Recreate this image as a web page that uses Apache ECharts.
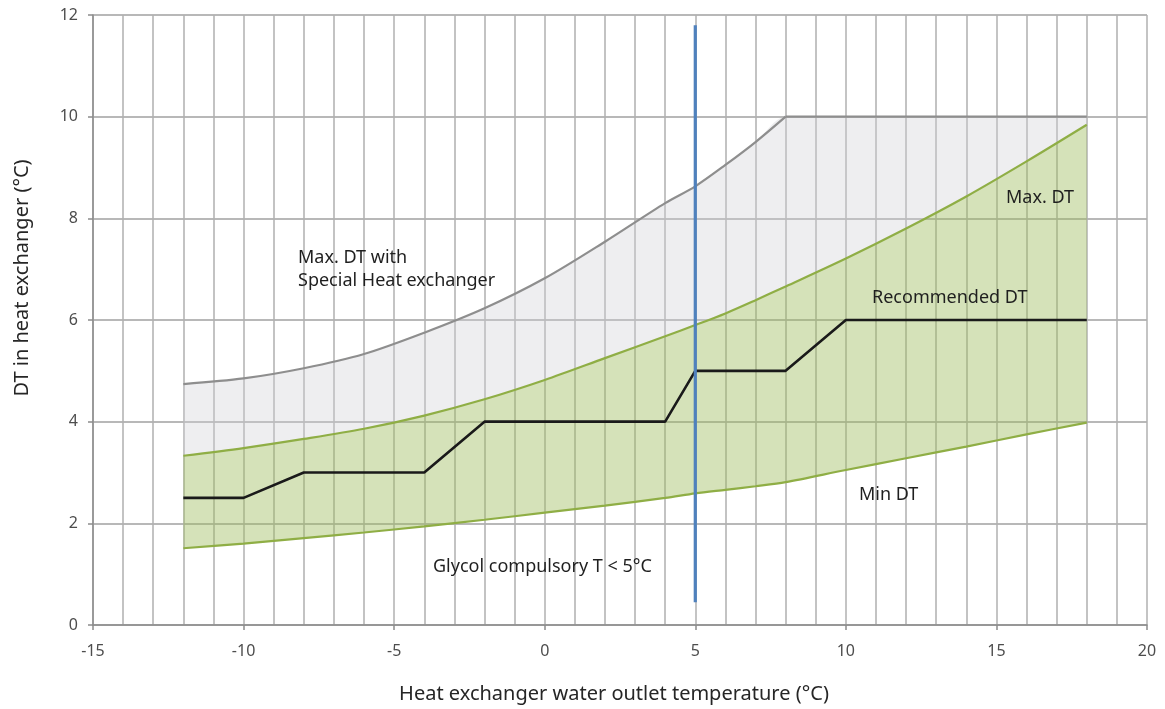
<!DOCTYPE html>
<html>
<head>
<meta charset="utf-8">
<script src="https://cdn.jsdelivr.net/npm/echarts@6/dist/echarts.min.js"></script>
<style>
html,body{margin:0;padding:0;background:#fff;}
#chart{width:1165px;height:709px;}
</style>
</head>
<body>
<div id="chart"></div>
<script>
// Shared x sample points (°C)
var xs      = [-12, -10, -8, -6, -4, -2, 0, 2, 4, 5, 6, 7, 8, 10, 12, 14, 16, 18];
// Min DT curve
var minDT   = [1.51, 1.60, 1.71, 1.82, 1.94, 2.07, 2.21, 2.35, 2.50, 2.59, 2.66, 2.73, 2.81, 3.05, 3.28, 3.51, 3.75, 3.98];
// Max DT curve
var maxDT   = [3.33, 3.48, 3.66, 3.86, 4.12, 4.44, 4.82, 5.25, 5.68, 5.90, 6.13, 6.39, 6.66, 7.21, 7.80, 8.43, 9.12, 9.84];
// Max DT with special heat exchanger
var specDT  = [4.74, 4.85, 5.05, 5.33, 5.75, 6.23, 6.82, 7.54, 8.30, 8.63, 9.05, 9.50, 10.0, 10.0, 10.0, 10.0, 10.0, 10.0];
// Recommended DT (stepped)
var recX    = [-12, -10, -8, -4, -2, 4, 5, 8, 10, 18];
var recY    = [2.5, 2.5, 3, 3, 4, 4, 5, 5, 6, 6];
// Glycol limit line
var glyX    = [5, 5];
var glyY    = [0.45, 11.8];
// Axis ticks
var xTicks  = [-15, -10, -5, 0, 5, 10, 15, 20];
var yTicks  = [0, 2, 4, 6, 8, 10, 12];

function pairs(a, b) { return a.map(function (v, i) { return [v, b[i]]; }); }
// [y, x] rows so that the stacked dimension is y (first numeric column)
function yxRows(yv) { return yv.map(function (v, i) { return [v, xs[i]]; }); }
var band1 = maxDT.map(function (v, i) { return v - minDT[i]; });
var band2 = specDT.map(function (v, i) { return v - maxDT[i]; });

var FONT = 'Noto Sans';
var SM = 0.3;
var chart = echarts.init(document.getElementById('chart'), null, {renderer: 'canvas'});
var gridCol = '#b0b0b0';
var ANN = '18px "Noto Sans"';

var option = {
  backgroundColor: '#ffffff',
  animation: false,
  grid: {left: 93, right: 18, top: 15, bottom: 84, containLabel: false},
  xAxis: {
    type: 'value', min: xTicks[0], max: xTicks[xTicks.length - 1], interval: 5,
    axisLine: {show: true, onZero: false, lineStyle: {color: '#8c8c8c', width: 1.5}},
    axisTick: {show: true, length: 5, lineStyle: {color: '#8c8c8c', width: 1.5}},
    axisLabel: {fontFamily: FONT, fontSize: 16, color: '#4d4d4d', margin: 18},
    splitLine: {show: true, lineStyle: {color: gridCol, width: 1.5}},
    minorTick: {show: false, splitNumber: 5},
    minorSplitLine: {show: true, lineStyle: {color: gridCol, width: 1.5}}
  },
  yAxis: {
    type: 'value', min: yTicks[0], max: yTicks[yTicks.length - 1], interval: 2,
    axisLine: {show: true, onZero: false, lineStyle: {color: '#8c8c8c', width: 1.5}},
    axisTick: {show: true, length: 5, lineStyle: {color: '#8c8c8c', width: 1.5}},
    axisLabel: {fontFamily: FONT, fontSize: 16, color: '#4d4d4d', margin: 15},
    splitLine: {show: true, lineStyle: {color: '#a0a0a0', width: 1.5}}
  },
  series: [
    {
      name: 'Min DT', type: 'line', stack: 'env', data: yxRows(minDT),
      encode: {x: 1, y: 0},
      smooth: SM, symbol: 'none',
      lineStyle: {color: '#8fae45', width: 2.2},
      z: 3
    },
    {
      name: 'Max DT', type: 'line', stack: 'env', data: yxRows(band1),
      encode: {x: 1, y: 0},
      smooth: SM, symbol: 'none',
      lineStyle: {color: '#8fae45', width: 2.2},
      areaStyle: {color: 'rgba(155,187,89,0.42)', opacity: 1},
      z: 3
    },
    {
      name: 'Special fill', type: 'line', stack: 'env', data: yxRows(band2),
      encode: {x: 1, y: 0},
      smooth: SM, symbol: 'none',
      lineStyle: {width: 0, opacity: 0},
      areaStyle: {color: 'rgba(205,205,212,0.35)', opacity: 1},
      z: 2
    },
    {
      name: 'Max DT with Special Heat exchanger', type: 'line',
      data: pairs(xs.slice(0, 13), specDT.slice(0, 13)),
      smooth: SM, symbol: 'none',
      lineStyle: {color: '#8e8e8e', width: 2.2},
      z: 4
    },
    {
      name: 'Max DT with Special Heat exchanger (flat)', type: 'line',
      data: pairs(xs.slice(12), specDT.slice(12)),
      symbol: 'none',
      lineStyle: {color: '#8e8e8e', width: 2.2},
      z: 4
    },
    {
      name: 'Recommended DT', type: 'line', data: pairs(recX, recY),
      symbol: 'none', lineStyle: {color: '#1a1a1a', width: 2.6},
      z: 5
    },
    {
      name: 'Glycol limit', type: 'line', data: pairs(glyX, glyY),
      symbol: 'none', lineStyle: {color: '#4f81bd', width: 3.2},
      z: 6
    }
  ],
  graphic: [
    {type: 'text', left: 298, top: 246, z: 10, style: {text: 'Max. DT with\nSpecial Heat exchanger', font: ANN, fill: '#1f1f1f', lineHeight: 23}},
    {type: 'text', left: 1006, top: 189, z: 10, style: {text: 'Max. DT', font: ANN, fill: '#1f1f1f'}},
    {type: 'text', left: 872, top: 289, z: 10, style: {text: 'Recommended DT', font: ANN, fill: '#1f1f1f'}},
    {type: 'text', left: 859, top: 486, z: 10, style: {text: 'Min DT', font: ANN, fill: '#1f1f1f'}},
    {type: 'text', left: 433, top: 558, z: 10, style: {text: 'Glycol compulsory T < 5°C', font: ANN, fill: '#1f1f1f'}},
    {type: 'text', x: 614, y: 694, z: 10, style: {text: 'Heat exchanger water outlet temperature (°C)', font: '20px "Noto Sans"', fill: '#262626', align: 'center', verticalAlign: 'middle'}},
    {type: 'text', x: 22, y: 278, z: 10, rotation: Math.PI / 2, style: {text: 'DT in heat exchanger (°C)', font: '20px "Noto Sans"', fill: '#262626', align: 'center', verticalAlign: 'middle'}}
  ]
};
chart.setOption(option);
</script>
</body>
</html>
